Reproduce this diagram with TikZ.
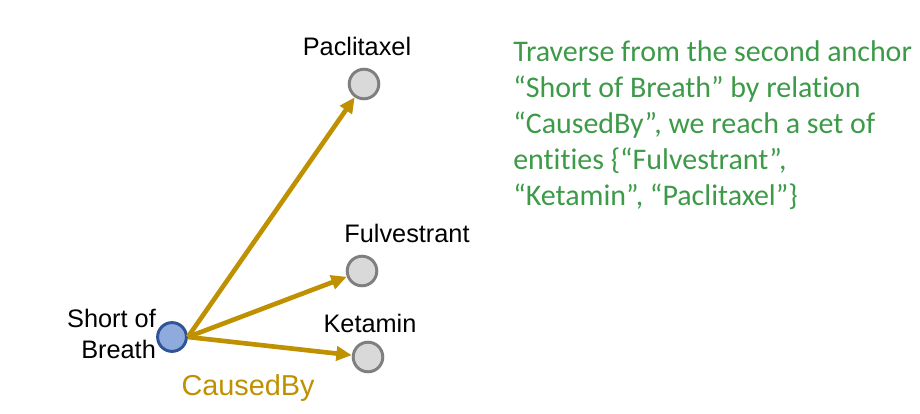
\documentclass[tikz,border=0pt]{standalone}
\usepackage{fontspec}
\setmainfont{Liberation Sans}
\newfontfamily\notefont[RawFeature={-liga;-clig;-calt;-dlig}]{Carlito}
\usetikzlibrary{arrows.meta,positioning,calc}
\definecolor{relgold}{HTML}{BF9000}
\definecolor{notegreen}{HTML}{3D9A48}
\definecolor{anchorblue}{HTML}{8FAADC}
\definecolor{anchoredge}{HTML}{2F5597}
\definecolor{entgray}{HTML}{D9D9D9}
\definecolor{entedge}{HTML}{7F7F7F}

\begin{document}
\begin{tikzpicture}[x=0.025cm, y=-0.025cm]
	\tikzstyle{anchornode} = [circle, inner sep=0pt, minimum size=0.72cm, fill=anchorblue, draw=anchoredge, line width=2.1pt]
	\tikzstyle{entity} = [circle, inner sep=0pt, minimum size=0.74cm, fill=entgray, draw=entedge, line width=2.1pt]
	\tikzstyle{lbl} = [font=\fontsize{18}{22}\selectfont, inner sep=0pt]
	\tikzstyle{rel} = [-{Triangle[length=11pt,width=10pt]}, line width=3.3pt, draw=relgold]
	\useasboundingbox (0,0) rectangle (920,414);
	% anchor
	\node (breath) at (172,337) [anchornode] {};
	\node (breath_lbl) at ($(breath.west)+(0,-3)$) [lbl, anchor=east, align=right] {Short of\\Breath};
	% entities
	\node (paclitaxel) at (364,84) [entity] {};
	\node (fulvestrant) at (362,271) [entity] {};
	\node (ketamin) at (368,357) [entity] {};
	\node at ($(paclitaxel.north)+(-7,-21)$) [lbl] {Paclitaxel};
	\node at ($(fulvestrant.north)+(45,-21)$) [lbl] {Fulvestrant};
	\node at ($(ketamin.north)+(2,-17)$) [lbl] {Ketamin};
	% relation
	\draw[rel] (breath.east) -- (paclitaxel);
	\draw[rel] (breath.east) -- (fulvestrant);
	\draw[rel] (breath.east) -- (ketamin);
	\node (caused_by) at ($(breath.south)+(76,35)$) [font=\fontsize{20.5}{24}\selectfont, text=relgold, inner sep=0pt] {CausedBy};
	% explanation
	\node (note) at (513,40) [anchor=north west, align=left, inner sep=0pt, text=notegreen, font=\notefont\fontsize{21.3}{25.6}\selectfont]
		{Traverse from the second anchor\\“Short of Breath” by relation\\“CausedBy”, we reach a set of\\entities \{“Fulvestrant”,\\“Ketamin”, “Paclitaxel”\}};
\end{tikzpicture}
\end{document}
